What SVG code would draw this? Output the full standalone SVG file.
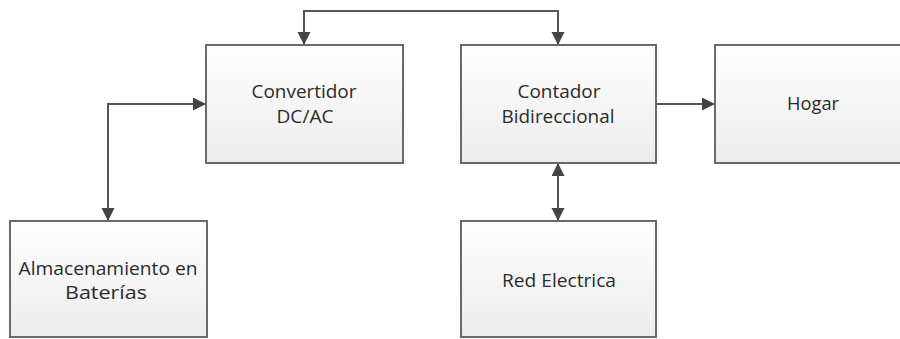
<svg xmlns="http://www.w3.org/2000/svg" width="900" height="339" viewBox="0 0 900 339">
  <style>
    .box { fill: url(#g); stroke: #6a6a6a; stroke-width: 2; }
    .lbl { font-family: "Open Sans", "Noto Sans", sans-serif; font-size: 18px; fill: #2b2b2b; text-anchor: middle; }
    .con { fill: none; stroke: #555555; stroke-width: 2; }
  </style>
  <defs>
    <linearGradient id="g" x1="0" y1="0" x2="0" y2="1">
      <stop offset="0" stop-color="#ffffff"/>
      <stop offset="1" stop-color="#ececec"/>
    </linearGradient>
    <marker id="ah" markerUnits="userSpaceOnUse" markerWidth="14" markerHeight="14" refX="13" refY="6.5" orient="auto-start-reverse">
      <path d="M0,0 L13,6.5 L0,13 z" fill="#444444"/>
    </marker>
  </defs>
  <rect width="900" height="339" fill="#ffffff"/>
  <g id="connectors">
    <path class="con" d="M304,45 V11 H558 V45" marker-start="url(#ah)" marker-end="url(#ah)"/>
    <path class="con" d="M108,221 V104 H206" marker-start="url(#ah)" marker-end="url(#ah)"/>
    <path class="con" d="M656,104 H715" marker-end="url(#ah)"/>
    <path class="con" d="M558,163 V221" marker-start="url(#ah)" marker-end="url(#ah)"/>
  </g>
  <g id="convertidor">
    <rect class="box" x="206" y="45" width="197" height="118"/>
    <text class="lbl" x="304" y="98" textLength="105" lengthAdjust="spacingAndGlyphs">Convertidor</text>
    <text class="lbl" x="305" y="123" textLength="57" lengthAdjust="spacingAndGlyphs">DC/AC</text>
  </g>
  <g id="contador">
    <rect class="box" x="461" y="45" width="195" height="118"/>
    <text class="lbl" x="559" y="98" textLength="83" lengthAdjust="spacingAndGlyphs">Contador</text>
    <text class="lbl" x="558" y="123" textLength="113" lengthAdjust="spacingAndGlyphs">Bidireccional</text>
  </g>
  <g id="hogar">
    <rect class="box" x="715" y="45" width="197" height="118"/>
    <text class="lbl" x="813" y="110" textLength="52" lengthAdjust="spacingAndGlyphs">Hogar</text>
  </g>
  <g id="almacenamiento">
    <rect class="box" x="10" y="221" width="197" height="116"/>
    <text class="lbl" x="108" y="275" textLength="179" lengthAdjust="spacingAndGlyphs">Almacenamiento en</text>
    <text class="lbl" x="106" y="299" textLength="82" lengthAdjust="spacingAndGlyphs">Baterías</text>
  </g>
  <g id="red">
    <rect class="box" x="461" y="221" width="195" height="116"/>
    <text class="lbl" x="559" y="287" textLength="114" lengthAdjust="spacingAndGlyphs">Red Electrica</text>
  </g>
</svg>
